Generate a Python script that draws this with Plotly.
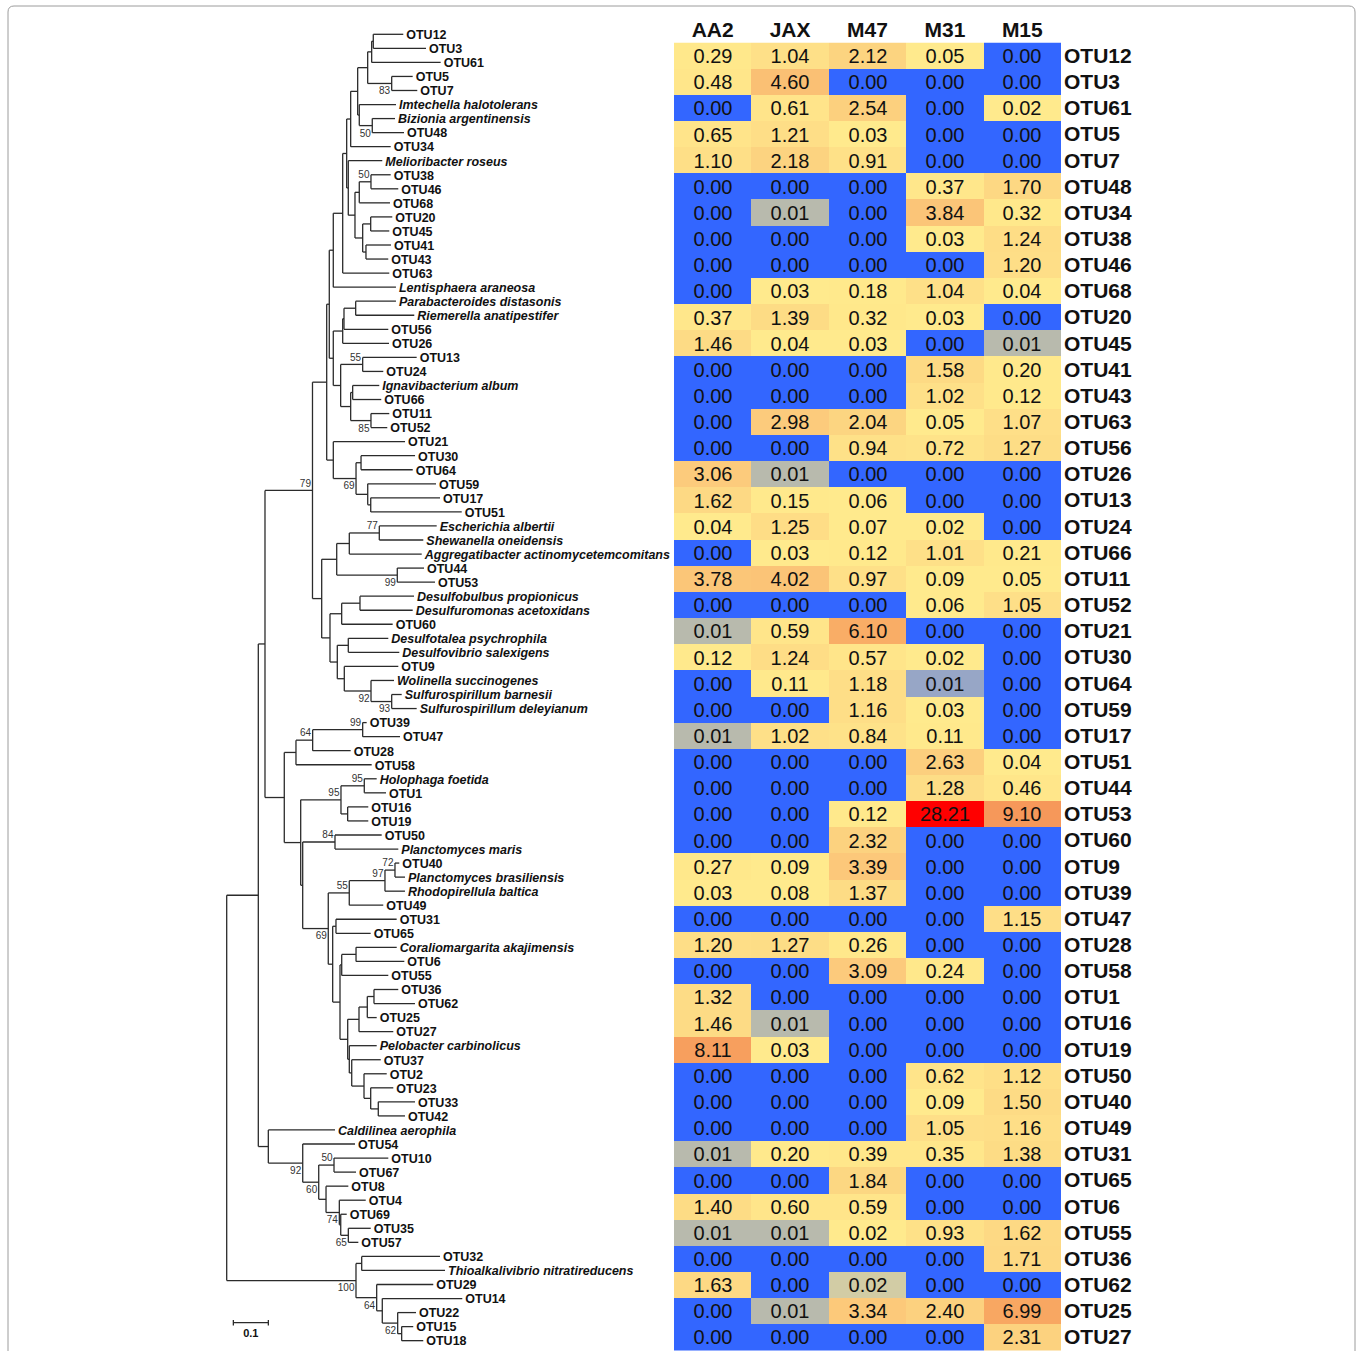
import re
import numpy as np
import plotly.graph_objects as go

# ------------------------------------------------------------------ data
SAMPLES = ["AA2", "JAX", "M47", "M31", "M15"]
ROWS = ["OTU12", "OTU3", "OTU61", "OTU5", "OTU7", "OTU48", "OTU34", "OTU38", "OTU46", "OTU68",
        "OTU20", "OTU45", "OTU41", "OTU43", "OTU63", "OTU56", "OTU26", "OTU13", "OTU24", "OTU66",
        "OTU11", "OTU52", "OTU21", "OTU30", "OTU64", "OTU59", "OTU17", "OTU51", "OTU44", "OTU53",
        "OTU60", "OTU9", "OTU39", "OTU47", "OTU28", "OTU58", "OTU1", "OTU16", "OTU19", "OTU50",
        "OTU40", "OTU49", "OTU31", "OTU65", "OTU6", "OTU55", "OTU36", "OTU62", "OTU25", "OTU27"]
AA2 = [0.29, 0.48, 0.00, 0.65, 1.10, 0.00, 0.00, 0.00, 0.00, 0.00,
       0.37, 1.46, 0.00, 0.00, 0.00, 0.00, 3.06, 1.62, 0.04, 0.00,
       3.78, 0.00, 0.01, 0.12, 0.00, 0.00, 0.01, 0.00, 0.00, 0.00,
       0.00, 0.27, 0.03, 0.00, 1.20, 0.00, 1.32, 1.46, 8.11, 0.00,
       0.00, 0.00, 0.01, 0.00, 1.40, 0.01, 0.00, 1.63, 0.00, 0.00]
JAX = [1.04, 4.60, 0.61, 1.21, 2.18, 0.00, 0.01, 0.00, 0.00, 0.03,
       1.39, 0.04, 0.00, 0.00, 2.98, 0.00, 0.01, 0.15, 1.25, 0.03,
       4.02, 0.00, 0.59, 1.24, 0.11, 0.00, 1.02, 0.00, 0.00, 0.00,
       0.00, 0.09, 0.08, 0.00, 1.27, 0.00, 0.00, 0.01, 0.03, 0.00,
       0.00, 0.00, 0.20, 0.00, 0.60, 0.01, 0.00, 0.00, 0.01, 0.00]
M47 = [2.12, 0.00, 2.54, 0.03, 0.91, 0.00, 0.00, 0.00, 0.00, 0.18,
       0.32, 0.03, 0.00, 0.00, 2.04, 0.94, 0.00, 0.06, 0.07, 0.12,
       0.97, 0.00, 6.10, 0.57, 1.18, 1.16, 0.84, 0.00, 0.00, 0.12,
       2.32, 3.39, 1.37, 0.00, 0.26, 3.09, 0.00, 0.00, 0.00, 0.00,
       0.00, 0.00, 0.39, 1.84, 0.59, 0.02, 0.00, 0.016, 3.34, 0.00]
M31 = [0.05, 0.00, 0.00, 0.00, 0.00, 0.37, 3.84, 0.03, 0.00, 1.04,
       0.03, 0.00, 1.58, 1.02, 0.05, 0.72, 0.00, 0.00, 0.02, 1.01,
       0.09, 0.06, 0.00, 0.02, 0.006, 0.03, 0.11, 2.63, 1.28, 28.21,
       0.00, 0.00, 0.00, 0.00, 0.00, 0.24, 0.00, 0.00, 0.00, 0.62,
       0.09, 1.05, 0.35, 0.00, 0.00, 0.93, 0.00, 0.00, 2.40, 0.00]
M15 = [0.00, 0.00, 0.02, 0.00, 0.00, 1.70, 0.32, 1.24, 1.20, 0.04,
       0.00, 0.01, 0.20, 0.12, 1.07, 1.27, 0.00, 0.00, 0.00, 0.21,
       0.05, 1.05, 0.00, 0.00, 0.00, 0.00, 0.00, 0.04, 0.46, 9.10,
       0.00, 0.00, 0.00, 1.15, 0.00, 0.00, 0.00, 0.00, 0.00, 1.12,
       1.50, 1.16, 1.38, 0.00, 0.00, 1.62, 1.71, 0.00, 6.99, 2.31]

# Phylogenetic tree (Newick, branch lengths in substitutions/site, bootstrap as node labels)
CLADE_D = "(((OTU12:0.0857,OTU3:0.1506):0.0046,OTU61:0.1971):0.0114,(OTU5:0.0600,OTU7:0.0731)83:0.0686)"
CLADE_E = "(Imtechella_halotolerans:0.1049,(Bizionia_argentinensis:0.0649,OTU48:0.0906)50:0.0371)"
CLADE_H = "((" + CLADE_D + ":0.0286," + CLADE_E + ":0.0046):0.0200,OTU34:0.1143)"
CLADE_O = ("(Melioribacter_roseus:0.0971,(((OTU38:0.0563,OTU46:0.0780)50:0.0334,OTU68:0.0877):0.0123,"
           "((OTU20:0.0617,OTU45:0.0531):0.0229,(OTU41:0.0714,OTU43:0.0637):0.0094):0.0220):0.0191)")
CLADE_S = "(((" + CLADE_H + ":0.0114," + CLADE_O + ":0.0046):0.0114,OTU63:0.1331):0.0269,Lentisphaera_araneosa:0.1791)"
CLADE_U = ("((((Parabacteroides_distasonis:0.1151,Riemerella_anatipestifer:0.1674):0.0334,OTU56:0.1266):0.0037,"
           "OTU26:0.1323):0.0269,((OTU13:0.1543,OTU24:0.0589)55:0.0629,((Ignavibacterium_album:0.0760,"
           "OTU66:0.0817):0.0057,(OTU11:0.0523,OTU52:0.0466)85:0.0580):0.0286):0.0211)")
CLADE_G21 = ("(OTU21:0.2049,((OTU30:0.1543,OTU64:0.1477):0.0143,(OTU59:0.1951,"
             "(OTU17:0.1980,OTU51:0.2600):0.0086):0.0334)69:0.0649)")
CLADE_Z = "((" + CLADE_S + ":0.0114," + CLADE_U + ":0.0114):0.0074," + CLADE_G21 + ":0.0189)"
CLADE_PROTEO = ("((((Escherichia_albertii:0.1640,Shewanella_oneidensis:0.1257)77:0.0857,"
                "Aggregatibacter_actinomycetemcomitans:0.2069):0.0360,(OTU44:0.0763,OTU53:0.1077)99:0.1731):0.0429,"
                "(((Desulfobulbus_propionicus:0.1543,Desulfuromonas_acetoxidans:0.1506):0.0523,OTU60:0.1457):0.0334,"
                "((Desulfotalea_psychrophila:0.1143,Desulfovibrio_salexigens:0.1457):0.0314,(OTU9:0.1543,"
                "(Wolinella_succinogenes:0.0657,(Sulfurospirillum_barnesii:0.0286,"
                "Sulfurospirillum_deleyianum:0.0714)93:0.0591)92:0.0763):0.0200):0.0209):0.0237)")
CLADE_79 = "(" + CLADE_Z + ":0.0406," + CLADE_PROTEO + ":0.0263)79"
CLADE_II = ("(((Coraliomargarita_akajimensis:0.1163,OTU6:0.1380):0.0409,OTU55:0.1331):0.0049,"
            "((((OTU36:0.0694,OTU62:0.1171):0.0191,OTU25:0.0269):0.0237,OTU27:0.0980):0.0323,"
            "(Pelobacter_carbinolicus:0.0783,(OTU37:0.0829,(OTU2:0.0649,(OTU23:0.0646,"
            "(OTU33:0.1049,OTU42:0.0763):0.0217):0.0191):0.0351):0.0069):0.0046):0.0220)")
CLADE_GG = ("((((OTU40:0.0123,Planctomyces_brasiliensis:0.0286)72:0.0286,Rhodopirellula_baltica:0.0571)97:0.1020,"
            "OTU49:0.0971)55:0.0600,((OTU31:0.1734,OTU65:0.0991):0.0094," + CLADE_II + ":0.0209):0.0126)69")
CLADE_BB = ("((((OTU39:0.0114,OTU47:0.1066)99:0.1429,OTU28:0.1086)64:0.0477,OTU58:0.2163):0.0334,"
            "(((Holophaga_foetida:0.0354,OTU1:0.0620)95:0.0666,(OTU16:0.0589,OTU19:0.0589):0.0191)95:0.1151,"
            "((OTU50:0.1334,Planctomyces_maris:0.1809)84:0.0923," + CLADE_GG + ":0.0731):0.0057):0.0469)")
CLADE_AA = "(" + CLADE_79 + ":0.1357," + CLADE_BB + ":0.0551)"
CLADE_DD = ("(Caldilinea_aerophila:0.1906,(OTU54:0.1494,((OTU10:0.1551,OTU67:0.0629)50:0.0437,"
            "(OTU8:0.0637,(OTU4:0.0754,(OTU69:0.0171,(OTU35:0.0640,OTU57:0.0286)65:0.0217):0.0040)74:0.0380)"
            ":0.0209)60:0.0457)92:0.0983)")
CLADE_ZZ = ("((OTU32:0.2237,Thioalkalivibrio_nitratireducens:0.2380):0.0163,(OTU29:0.1617,(OTU14:0.2286,"
            "(OTU22:0.0523,(OTU15:0.0331,OTU18:0.0617):0.0114)62:0.0440):0.0160)64:0.0591)100")
TREE = "((" + CLADE_AA + ":0.0191," + CLADE_DD + ":0.0286):0.0903," + CLADE_ZZ + ":0.3694);"

SCALE_BAR = 0.1

# ------------------------------------------------------------------ style
FONT = "Liberation Sans, Arial, Helvetica, sans-serif"
W, H = 1357, 1351
PX_PER_UNIT = 350.0          # tree: pixels per unit branch length
ROOT_PX = 226.7
LEAF0_PX, LEAF_STEP = 34.3, 14.047
HM_LEFT, HM_RIGHT, HM_TOP, HM_ROW = 674.0, 1061.0, 42.5, 26.15

BREAKS = [0, 0.006, 0.01, 0.016, 0.02, 0.3, 1.0, 2.0, 3.0, 4.6, 6.1, 9.1, 28.21]
COLORS = ["#3366FF", "#97A6C6", "#B8BAAD", "#D2CCA5", "#FFEA8D", "#FFE88B", "#FEE088",
          "#FCD581", "#FCCB7C", "#FAC074", "#F9AD66", "#F6985A", "#FF0000"]


# ------------------------------------------------------------------ newick parsing / layout
def parse_newick(s):
    s = s.strip().rstrip(";")
    pos = 0

    def node():
        nonlocal pos
        n = {"children": [], "name": "", "length": 0.0}
        if s[pos] == "(":
            pos += 1
            while True:
                n["children"].append(node())
                if s[pos] == ",":
                    pos += 1
                elif s[pos] == ")":
                    pos += 1
                    break
        m = re.match(r"[^:,();]*", s[pos:])
        n["name"] = m.group(0)
        pos += len(n["name"])
        if pos < len(s) and s[pos] == ":":
            pos += 1
            m = re.match(r"[0-9.eE+\-]+", s[pos:])
            n["length"] = float(m.group(0))
            pos += len(m.group(0))
        return n

    return node()


root = parse_newick(TREE)
leaves = []


def place(n, x0):
    n["x"] = x0 + n["length"]
    if not n["children"]:
        n["y"] = len(leaves)
        leaves.append(n)
    else:
        for c in n["children"]:
            place(c, n["x"])
        n["y"] = (n["children"][0]["y"] + n["children"][-1]["y"]) / 2.0


root["length"] = 0.0
place(root, 0.0)

lx, ly = [], []
boot_x, boot_y, boot_t = [], [], []
stack = [(root, None)]
while stack:
    n, parent = stack.pop()
    if parent is not None:
        lx += [parent["x"], n["x"], None]
        ly += [n["y"], n["y"], None]
        if n["children"] and n["name"]:
            upper = parent["children"][0] is n
            boot_x.append(n["x"] - 1.5 / PX_PER_UNIT)
            boot_y.append(n["y"] + (-0.45 if upper else 0.6))
            boot_t.append(n["name"])
    if n["children"]:
        lx += [n["x"], n["x"], None]
        ly += [n["children"][0]["y"], n["children"][-1]["y"], None]
        for c in n["children"]:
            stack.append((c, n))

leaf_x = [lf["x"] + 3.0 / PX_PER_UNIT for lf in leaves]
leaf_y = [lf["y"] + 0.12 for lf in leaves]
leaf_t = []
for lf in leaves:
    nm = lf["name"].replace("_", " ")
    leaf_t.append("<b>%s</b>" % nm if nm.startswith("OTU") else "<b><i>%s</i></b>" % nm)

fig = go.Figure()

# tree branches
fig.add_trace(go.Scatter(x=lx, y=ly, mode="lines", line=dict(color="#2b2b2b", width=1.3),
                         hoverinfo="skip", showlegend=False, xaxis="x", yaxis="y"))
# leaf labels
fig.add_trace(go.Scatter(x=leaf_x, y=leaf_y, mode="text", text=leaf_t, textposition="middle right",
                         textfont=dict(family=FONT, size=12.5, color="#111111"),
                         hoverinfo="skip", showlegend=False, xaxis="x", yaxis="y"))
# bootstrap labels
fig.add_trace(go.Scatter(x=boot_x, y=boot_y, mode="text", text=boot_t, textposition="middle left",
                         textfont=dict(family=FONT, size=10, color="#333333"),
                         hoverinfo="skip", showlegend=False, xaxis="x", yaxis="y"))

# scale bar
n_leaf = len(leaves)
sb_x0 = 0.019
sb_y = n_leaf - 1 - 1.28
fig.add_trace(go.Scatter(
    x=[sb_x0, sb_x0 + SCALE_BAR, None, sb_x0, sb_x0, None, sb_x0 + SCALE_BAR, sb_x0 + SCALE_BAR],
    y=[sb_y, sb_y, None, sb_y - 0.2, sb_y + 0.2, None, sb_y - 0.2, sb_y + 0.2],
    mode="lines", line=dict(color="#2b2b2b", width=1.3), hoverinfo="skip", showlegend=False,
    xaxis="x", yaxis="y"))
fig.add_trace(go.Scatter(x=[sb_x0 + SCALE_BAR / 2], y=[sb_y + 0.85], mode="text",
                         text=["<b>%g</b>" % SCALE_BAR], textposition="middle center",
                         textfont=dict(family=FONT, size=11, color="#111111"),
                         hoverinfo="skip", showlegend=False, xaxis="x", yaxis="y"))

# heatmap
vals = np.array([AA2, JAX, M47, M31, M15], dtype=float).T
pos = np.linspace(0, 1, len(BREAKS))
zt = np.interp(vals, BREAKS, pos)
cscale = [[float(p), c] for p, c in zip(pos, COLORS)]
txt = [["%.2f" % v for v in row] for row in vals]
fig.add_trace(go.Heatmap(z=zt, x=list(range(len(SAMPLES))), y=list(range(len(ROWS))), text=txt,
                         texttemplate="%{text}", textfont=dict(family=FONT, size=20, color="#111111"),
                         colorscale=cscale, zmin=0, zmax=1, showscale=False, hoverinfo="skip",
                         xaxis="x2", yaxis="y2"))

tree_xrange = [-ROOT_PX / PX_PER_UNIT, (W - ROOT_PX) / PX_PER_UNIT]
tree_yrange = [(H - LEAF0_PX) / LEAF_STEP, -LEAF0_PX / LEAF_STEP]
hm_ybottom = (H - HM_TOP) / HM_ROW - 0.5

hidden = dict(showgrid=False, zeroline=False, showline=False, showticklabels=False, ticks="")
fig.update_layout(
    width=W, height=H, margin=dict(l=0, r=0, t=0, b=0),
    paper_bgcolor="white", plot_bgcolor="white", showlegend=False,
    xaxis=dict(domain=[0, 1], range=tree_xrange, **hidden),
    yaxis=dict(domain=[0, 1], range=tree_yrange, **hidden),
    xaxis2=dict(domain=[HM_LEFT / W, HM_RIGHT / W], range=[-0.5, len(SAMPLES) - 0.5], anchor="y2",
                side="top", tickmode="array", tickvals=list(range(len(SAMPLES))),
                ticktext=["<b>%s</b>" % s for s in SAMPLES], ticks="", showgrid=False, zeroline=False,
                showline=False, tickfont=dict(family=FONT, size=21, color="#111111")),
    yaxis2=dict(domain=[0, 1 - HM_TOP / H], range=[hm_ybottom, -0.5], anchor="x2", side="right",
                tickmode="array", tickvals=list(range(len(ROWS))),
                ticktext=["<b>%s</b>" % r for r in ROWS], ticks="", showgrid=False, zeroline=False,
                showline=False, ticklabelstandoff=2,
                tickfont=dict(family=FONT, size=21, color="#111111")),
)


def px(xp):
    return xp / W


def py(yp):
    return 1 - yp / H


frame = ("M {a},{b} L {a},{c} Q {a},{d} {e},{d} L {f},{d} Q {g},{d} {g},{c} L {g},{b}"
         .format(a=px(8), b=py(1360), c=py(12), d=py(6), e=px(14), f=px(1349), g=px(1355)))
fig.add_shape(type="path", path=frame, xref="paper", yref="paper",
              line=dict(color="#9c9c9c", width=1), layer="below")

fig.write_html("out.html", config={"displayModeBar": False},
               post_script="document.body.style.margin='0px';document.body.style.overflow='hidden';")
